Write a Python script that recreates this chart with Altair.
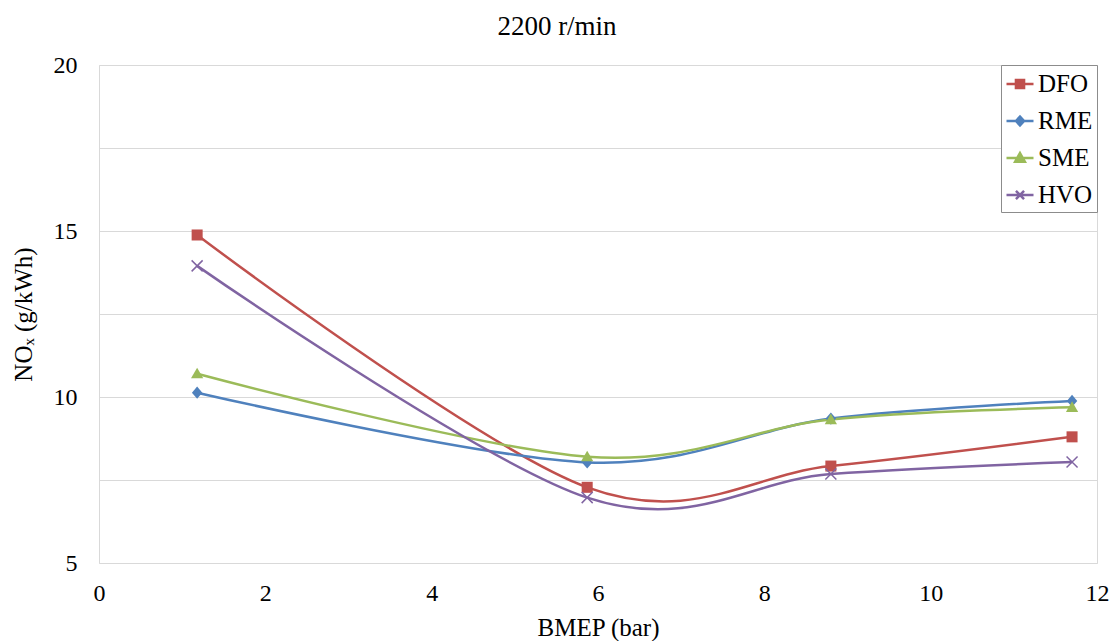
import altair as alt
import pandas as pd

# NOx emissions at 2200 r/min for four fuels over engine load
series_names = ["DFO", "RME", "SME", "HVO"]
bmep_bar = [1.18, 5.87, 8.80, 11.70]
nox_dfo = [14.88, 7.28, 7.92, 8.80]
nox_rme = [10.13, 8.03, 9.35, 9.88]
nox_sme = [10.70, 8.20, 9.32, 9.69]
nox_hvo = [13.95, 6.97, 7.68, 8.04]
x_ticks = [0, 2, 4, 6, 8, 10, 12]
y_grid = [5, 7.5, 10, 12.5, 15, 17.5, 20]

series_values = {"DFO": nox_dfo, "RME": nox_rme, "SME": nox_sme, "HVO": nox_hvo}
palette = ["#C0504D", "#4F81BD", "#9BBB59", "#8064A2"]
series_color = dict(zip(series_names, palette))

# marker outlines drawn at each data point (unit box -1..1)
marker_paths = {
    "DFO": "M-0.9,-0.9H0.9V0.9H-0.9Z",
    "RME": "M0,-1L0.85,0L0,1L-0.85,0Z",
    "SME": "M0,-1L1,0.75H-1Z",
    "HVO": "M-0.9,-0.9L0.9,0.9M-0.9,0.9L0.9,-0.9",
}
# legend keys: a short line with the marker in its middle
legend_paths = [
    "M-1,0H1M-0.3,-0.3H0.3V0.3H-0.3Z",
    "M-1,0H1M0,-0.33L0.3,0L0,0.33L-0.3,0Z",
    "M-1,0H1M0,-0.36L0.36,0.27H-0.36Z",
    "M-1,0H1M-0.3,-0.3L0.3,0.3M-0.3,0.3L0.3,-0.3",
]

rows = []
for name in series_names:
    for x, y in zip(bmep_bar, series_values[name]):
        rows.append({
            "series": name, "bmep": x, "nox": y,
            "marker": marker_paths[name], "hue": series_color[name],
        })
df = pd.DataFrame(rows)

serif = "Liberation Serif"
key_scale = alt.Scale(domain=series_names, range=palette)

x_enc = alt.X(
    "bmep:Q",
    scale=alt.Scale(domain=[0, 12], nice=False, zero=False),
    axis=alt.Axis(
        values=x_ticks, title="BMEP (bar)", grid=False, ticks=False, domain=False,
        labelPadding=18, titlePadding=10, format="d", labelFlush=False,
    ),
)
y_enc = alt.Y(
    "nox:Q",
    scale=alt.Scale(domain=[5, 20], nice=False, zero=False),
    axis=alt.Axis(
        values=y_grid, title="NOₓ (g/kWh)", ticks=False, domain=False,
        labelExpr="datum.value % 5 === 0 ? datum.label : ''", labelFlush=False,
        labelPadding=22, titlePadding=17, gridColor="#d9d9d9", gridWidth=1,
    ),
)

hue = alt.Color("hue:N", scale=None)

# smoothed curves through the measured points
lines = alt.Chart(df).mark_line(interpolate="cardinal", strokeWidth=2.5).encode(
    x=x_enc, y=y_enc, color=hue, detail="series:N",
)

# solid markers (square, diamond, triangle)
solid_points = alt.Chart(df).transform_filter(
    alt.datum.series != "HVO"
).mark_point(filled=True, opacity=1, size=150, strokeWidth=0).encode(
    x=x_enc, y=y_enc, color=hue, shape=alt.Shape("marker:N", scale=None),
)

# cross markers drawn as strokes
cross_points = alt.Chart(df).transform_filter(
    alt.datum.series == "HVO"
).mark_point(filled=False, opacity=1, size=150, strokeWidth=1.5).encode(
    x=x_enc, y=y_enc, color=hue, shape=alt.Shape("marker:N", scale=None),
)

key_legend = alt.Legend(
    title=None, orient="top-right", offset=0, padding=4,
    strokeColor="#8c8c8c", fillColor="white",
    labelFont=serif, labelFontSize=25, labelColor="black", labelOffset=3,
    symbolSize=729, symbolStrokeWidth=2.5, symbolOpacity=1, rowPadding=9,
)

# invisible layer that only carries the line-and-marker legend keys
legend_layer = alt.Chart(df).mark_point(opacity=0, size=729, strokeWidth=2.5).encode(
    x=x_enc,
    y=y_enc,
    fill=alt.Fill("series:N", scale=key_scale, legend=key_legend),
    stroke=alt.Stroke("series:N", scale=key_scale, legend=key_legend),
    shape=alt.Shape(
        "series:N", scale=alt.Scale(domain=series_names, range=legend_paths), legend=key_legend
    ),
)

chart = (
    alt.layer(lines, solid_points, cross_points, legend_layer)
    .properties(
        width=998,
        height=498,
        autosize="none",
        background="white",
        padding={"left": 99, "top": 65, "right": 16, "bottom": 78},
        title=alt.TitleParams(
            "2200 r/min", font=serif, fontSize=27, fontWeight="normal", color="black",
            anchor="middle", dx=-41, offset=12,
        ),
    )
    .configure_view(stroke="#d9d9d9", strokeWidth=1)
    .configure_axis(
        labelFont=serif, labelFontSize=24, labelColor="black",
        titleFont=serif, titleFontSize=25, titleColor="black", titleFontWeight="normal",
    )
)

chart.save("out.html", embed_options={"renderer": "svg", "actions": False})
